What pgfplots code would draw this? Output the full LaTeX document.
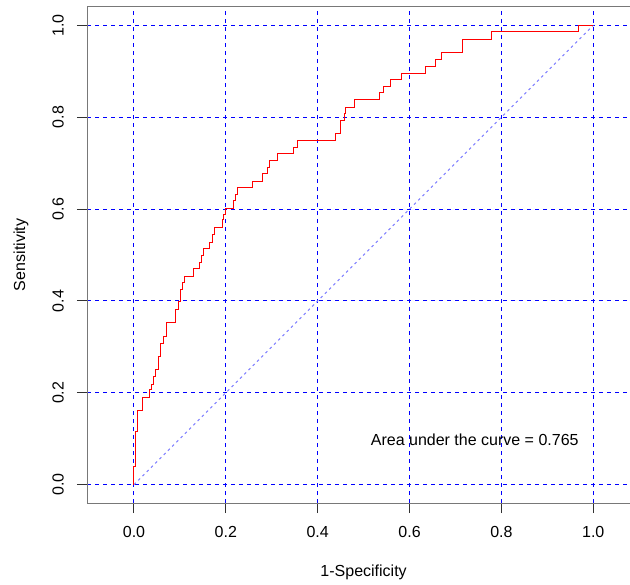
\documentclass[border=0pt]{standalone}
\usepackage{fontspec}
\setmainfont{Liberation Sans}
\usepackage{pgfplots}
\pgfplotsset{compat=1.18}
\definecolor{gridblue}{RGB}{0,0,255}
\definecolor{diagblue}{RGB}{128,128,255}
\definecolor{boxgray}{RGB}{120,120,120}
\definecolor{tickgray}{RGB}{50,50,50}
\begin{document}
\begin{tikzpicture}
\begin{axis}[
  at={(65.25pt,60.75pt)}, anchor=south west,
  scale only axis, width=414.9pt, height=372pt,
  xmin=-0.1023, xmax=1.1023, ymin=-0.04, ymax=1.04,
  xtick={0,0.2,0.4,0.6,0.8,1}, xticklabels={0.0,0.2,0.4,0.6,0.8,1.0},
  ytick={0,0.2,0.4,0.6,0.8,1}, yticklabels={0.0,0.2,0.4,0.6,0.8,1.0},
  tick pos=left, tick align=outside, major tick length=7.5pt,
  every tick/.style={draw=tickgray, line width=0.75pt},
  axis line style={draw=boxgray, line width=0.75pt},
  grid=major,
  major grid style={color=gridblue, dash pattern=on 3pt off 3pt, line width=0.75pt},
  tick label style={font=\fontsize{12pt}{14pt}\selectfont},
  x tick label style={anchor=center, yshift=-14.25pt},
  y tick label style={xshift=-14.25pt, rotate=90, anchor=center},
  every axis x label/.style={at={(axis description cs:0.5,0)}, yshift=-51.75pt, anchor=center, font=\fontsize{12pt}{14pt}\selectfont},
  every axis y label/.style={at={(axis description cs:0,0.5)}, xshift=-49.5pt, rotate=90, anchor=center, font=\fontsize{12pt}{14pt}\selectfont},
  xlabel={1-Specificity}, ylabel={Sensitivity},
]
\addplot[color=diagblue, dash pattern=on 2pt off 2.5pt, line width=0.75pt] coordinates {(0,0) (1,1)};
\addplot[color=red, solid, line width=0.75pt] coordinates {
(0,0) (0,0.039) (0.0033,0.039) (0.0033,0.116) (0.0072,0.116) (0.0072,0.162) (0.0185,0.162) (0.0185,0.189) (0.0333,0.189) (0.0333,0.207) (0.0381,0.207) (0.0381,0.218) (0.0424,0.218) (0.0424,0.235) (0.0479,0.235) (0.0479,0.250) (0.0529,0.250) (0.0529,0.279) (0.0581,0.279) (0.0581,0.308) (0.0653,0.308) (0.0653,0.323) (0.0712,0.323) (0.0712,0.352) (0.0903,0.352) (0.0903,0.382) (0.0964,0.382) (0.0964,0.399) (0.1016,0.399) (0.1016,0.425) (0.1060,0.425) (0.1060,0.440) (0.1110,0.440) (0.1110,0.453) (0.1306,0.453) (0.1306,0.470) (0.1421,0.470) (0.1421,0.484) (0.1473,0.484) (0.1473,0.499) (0.1508,0.499) (0.1508,0.514) (0.1639,0.514) (0.1639,0.527) (0.1713,0.527) (0.1713,0.544) (0.1763,0.544) (0.1763,0.559) (0.1930,0.559) (0.1930,0.577) (0.1959,0.577) (0.1959,0.588) (0.2002,0.588) (0.2002,0.602) (0.2176,0.602) (0.2176,0.619) (0.2220,0.619) (0.2220,0.631) (0.2248,0.631) (0.2248,0.648) (0.2583,0.648) (0.2583,0.660) (0.2801,0.660) (0.2801,0.677) (0.2910,0.677) (0.2910,0.690) (0.2960,0.690) (0.2960,0.705) (0.3127,0.705) (0.3127,0.720) (0.3467,0.720) (0.3467,0.733) (0.3554,0.733) (0.3554,0.750) (0.4396,0.750) (0.4396,0.764) (0.4498,0.764) (0.4498,0.793) (0.4592,0.793) (0.4592,0.809) (0.4614,0.809) (0.4614,0.822) (0.4794,0.822) (0.4794,0.838) (0.5338,0.838) (0.5338,0.853) (0.5441,0.853) (0.5441,0.866) (0.5586,0.866) (0.5586,0.882) (0.5826,0.882) (0.5826,0.896) (0.6355,0.896) (0.6355,0.911) (0.6566,0.911) (0.6566,0.925) (0.6696,0.925) (0.6696,0.940) (0.7145,0.940) (0.7145,0.969) (0.7785,0.969) (0.7785,0.986) (0.9669,0.986) (0.9669,1) (1,1)
};
\node[font=\fontsize{12pt}{14pt}\selectfont, anchor=center, text=black] at (axis cs:0.742,0.098) {Area under the curve = 0.765};
\end{axis}
\pgfresetboundingbox
\path[use as bounding box] (0,0) rectangle (472.5pt,438pt);
\end{tikzpicture}
\end{document}
